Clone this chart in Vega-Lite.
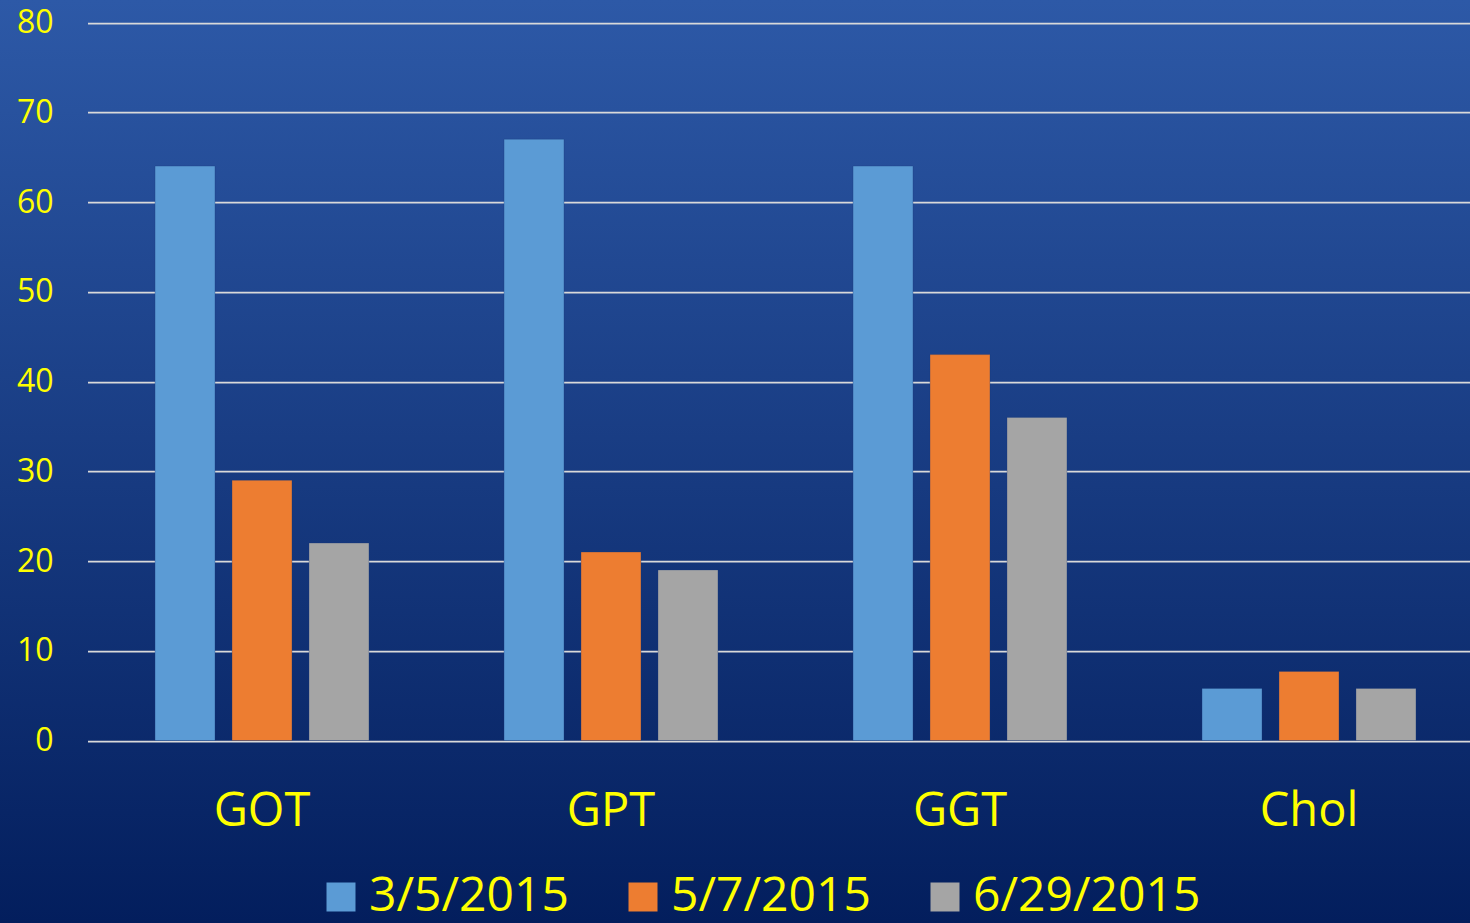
{
  "$schema": "https://vega.github.io/schema/vega-lite/v6.json",
  "width": 1470,
  "height": 923,
  "autosize": {"type": "none"},
  "padding": 0,
  "background": "#0a2a6c",
  "data": {
    "values": [
      {"test": "GOT", "date": "3/5/2015", "value": 64},
      {"test": "GOT", "date": "5/7/2015", "value": 29},
      {"test": "GOT", "date": "6/29/2015", "value": 22},
      {"test": "GPT", "date": "3/5/2015", "value": 67},
      {"test": "GPT", "date": "5/7/2015", "value": 21},
      {"test": "GPT", "date": "6/29/2015", "value": 19},
      {"test": "GGT", "date": "3/5/2015", "value": 64},
      {"test": "GGT", "date": "5/7/2015", "value": 43},
      {"test": "GGT", "date": "6/29/2015", "value": 36},
      {"test": "Chol", "date": "3/5/2015", "value": 5.8},
      {"test": "Chol", "date": "5/7/2015", "value": 7.7},
      {"test": "Chol", "date": "6/29/2015", "value": 5.8}
    ]
  },
  "mark": {"type": "bar", "stroke": "#1a3a7a", "strokeWidth": 0.5, "strokeOpacity": 0.6},
  "encoding": {
    "x": {
      "field": "test",
      "type": "nominal",
      "sort": ["GOT", "GPT", "GGT", "Chol"],
      "scale": {"range": [87.5, 1483.5], "paddingInner": 0, "paddingOuter": 0},
      "axis": {
        "title": null,
        "orient": "bottom",
        "offset": -182.5,
        "domain": false,
        "ticks": false,
        "labelPadding": 71,
        "labelBaseline": "middle",
        "labelFont": "Open Sans",
        "labelFontSize": 47,
        "labelColor": "#ffff00",
        "labelAngle": 0,
        "grid": false
      }
    },
    "xOffset": {
      "field": "date",
      "type": "nominal",
      "sort": ["3/5/2015", "5/7/2015", "6/29/2015"],
      "scale": {"paddingInner": 0.221, "paddingOuter": 0.877}
    },
    "y": {
      "field": "value",
      "type": "quantitative",
      "scale": {"domain": [0, 80], "range": [740.5, 22.5], "nice": false, "zero": true},
      "axis": {
        "title": null,
        "orient": "left",
        "offset": -88,
        "domain": false,
        "ticks": false,
        "values": [0, 10, 20, 30, 40, 50, 60, 70, 80],
        "labelPadding": 35,
        "labelFont": "Open Sans",
        "labelFontSize": 32,
        "labelColor": "#ffff00",
        "grid": true,
        "gridColor": "#d9d9d9",
        "gridWidth": 1.75
      }
    },
    "color": {
      "field": "date",
      "type": "nominal",
      "scale": {
        "domain": ["3/5/2015", "5/7/2015", "6/29/2015"],
        "range": ["#5b9bd5", "#ed7d31", "#a5a5a5"]
      },
      "legend": {
        "title": null,
        "orient": "none",
        "direction": "horizontal",
        "legendX": 317,
        "legendY": 873,
        "symbolType": "square",
        "symbolSize": 841,
        "symbolStrokeWidth": 0,
        "symbolOpacity": 1,
        "labelFont": "Open Sans",
        "labelFontSize": 48,
        "labelColor": "#ffff00",
        "labelOffset": 4,
        "labelLimit": 400,
        "columnPadding": 50
      }
    }
  },
  "config": {
    "view": {
      "stroke": null,
      "fill": {
        "gradient": "linear",
        "x1": 0, "y1": 0, "x2": 0, "y2": 1,
        "stops": [
          {"offset": 0, "color": "#2d59a7"},
          {"offset": 1, "color": "#031e5d"}
        ]
      }
    }
  }
}
